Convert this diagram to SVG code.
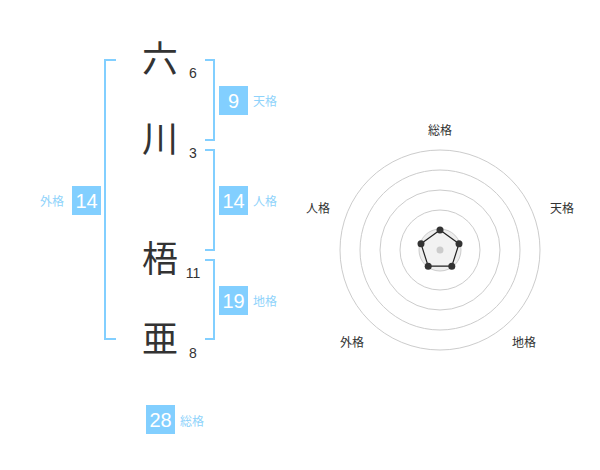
<svg xmlns="http://www.w3.org/2000/svg" width="600" height="470" viewBox="0 0 600 470">
<style>
.kanji{font-family:"Noto Sans CJK JP","Noto Sans CJK SC",sans-serif;font-size:36px;fill:#333;text-anchor:middle}
.num{font-family:"Liberation Sans",Arial,sans-serif;font-size:14px;fill:#333;text-anchor:middle}
.br{fill:none;stroke:#82cfff;stroke-width:2}
.box{fill:#82cfff}
.bn{font-family:"Liberation Sans",Arial,sans-serif;font-size:20px;fill:#fff;text-anchor:middle}
.lb{font-family:"Noto Sans CJK JP","Noto Sans CJK SC",sans-serif;font-size:12px;fill:#8fd3fb}
.ring{fill:none;stroke:#ccc;stroke-width:1}
.rl{font-family:"Noto Sans CJK JP","Noto Sans CJK SC",sans-serif;font-size:12px;fill:#333;text-anchor:middle}
</style>
<rect width="600" height="470" fill="#fff"/>
<g id="chars">
<g id="c1"><text class="kanji" x="160" y="72">六</text><text class="num" x="193" y="78">6</text></g>
<g id="c2"><text class="kanji" x="160" y="152">川</text><text class="num" x="193" y="158">3</text></g>
<g id="c3"><text class="kanji" x="160" y="272">梧</text><text class="num" x="193" y="278">11</text></g>
<g id="c4"><text class="kanji" x="160" y="352">亜</text><text class="num" x="193" y="358">8</text></g>
</g>
<g id="connectors">
<path class="br" d="M116,60 H105 V339 H116"/>
<path class="br" d="M205,60 H214 V140 H205"/>
<path class="br" d="M205,150 H214 V250 H205"/>
<path class="br" d="M205,260 H214 V339 H205"/>
</g>
<g id="tenkaku"><rect class="box" x="219" y="86" width="29" height="29"/><text class="bn" x="233.5" y="107.5">9</text><text class="lb" x="253" y="106">天格</text></g>
<g id="jinkaku"><rect class="box" x="219" y="186" width="29" height="29"/><text class="bn" x="233.5" y="207.5">14</text><text class="lb" x="253" y="206">人格</text></g>
<g id="chikaku"><rect class="box" x="219" y="286" width="29" height="29"/><text class="bn" x="233.5" y="307.5">19</text><text class="lb" x="253" y="306">地格</text></g>
<g id="gaikaku"><rect class="box" x="72" y="186" width="29" height="29"/><text class="bn" x="86.5" y="207.5">14</text><text class="lb" x="40" y="206">外格</text></g>
<g id="soukaku"><rect class="box" x="146" y="405" width="29" height="29"/><text class="bn" x="160.5" y="426.5">28</text><text class="lb" x="180" y="426">総格</text></g>
<g id="radar">
<circle class="ring" cx="440" cy="250" r="100"/>
<circle class="ring" cx="440" cy="250" r="80"/>
<circle class="ring" cx="440" cy="250" r="60"/>
<circle class="ring" cx="440" cy="250" r="40"/>
<circle cx="440" cy="250" r="21" fill="#eee" stroke="#ccc" stroke-width="1"/>
<polygon points="440,230 459,243.8 451.8,266.2 428.2,266.2 421,243.8" fill="#f2f2f2" stroke="#222" stroke-width="1.2"/>
<circle cx="440" cy="250" r="3.5" fill="#ccc"/>
<g fill="#333">
<circle cx="440" cy="230" r="3.5"/>
<circle cx="459" cy="243.8" r="3.5"/>
<circle cx="451.8" cy="266.2" r="3.5"/>
<circle cx="428.2" cy="266.2" r="3.5"/>
<circle cx="421" cy="243.8" r="3.5"/>
</g>
<text class="rl" x="440" y="135">総格</text>
<text class="rl" x="562" y="213">天格</text>
<text class="rl" x="318" y="213">人格</text>
<text class="rl" x="352" y="347">外格</text>
<text class="rl" x="524" y="347">地格</text>
</g>
</svg>
